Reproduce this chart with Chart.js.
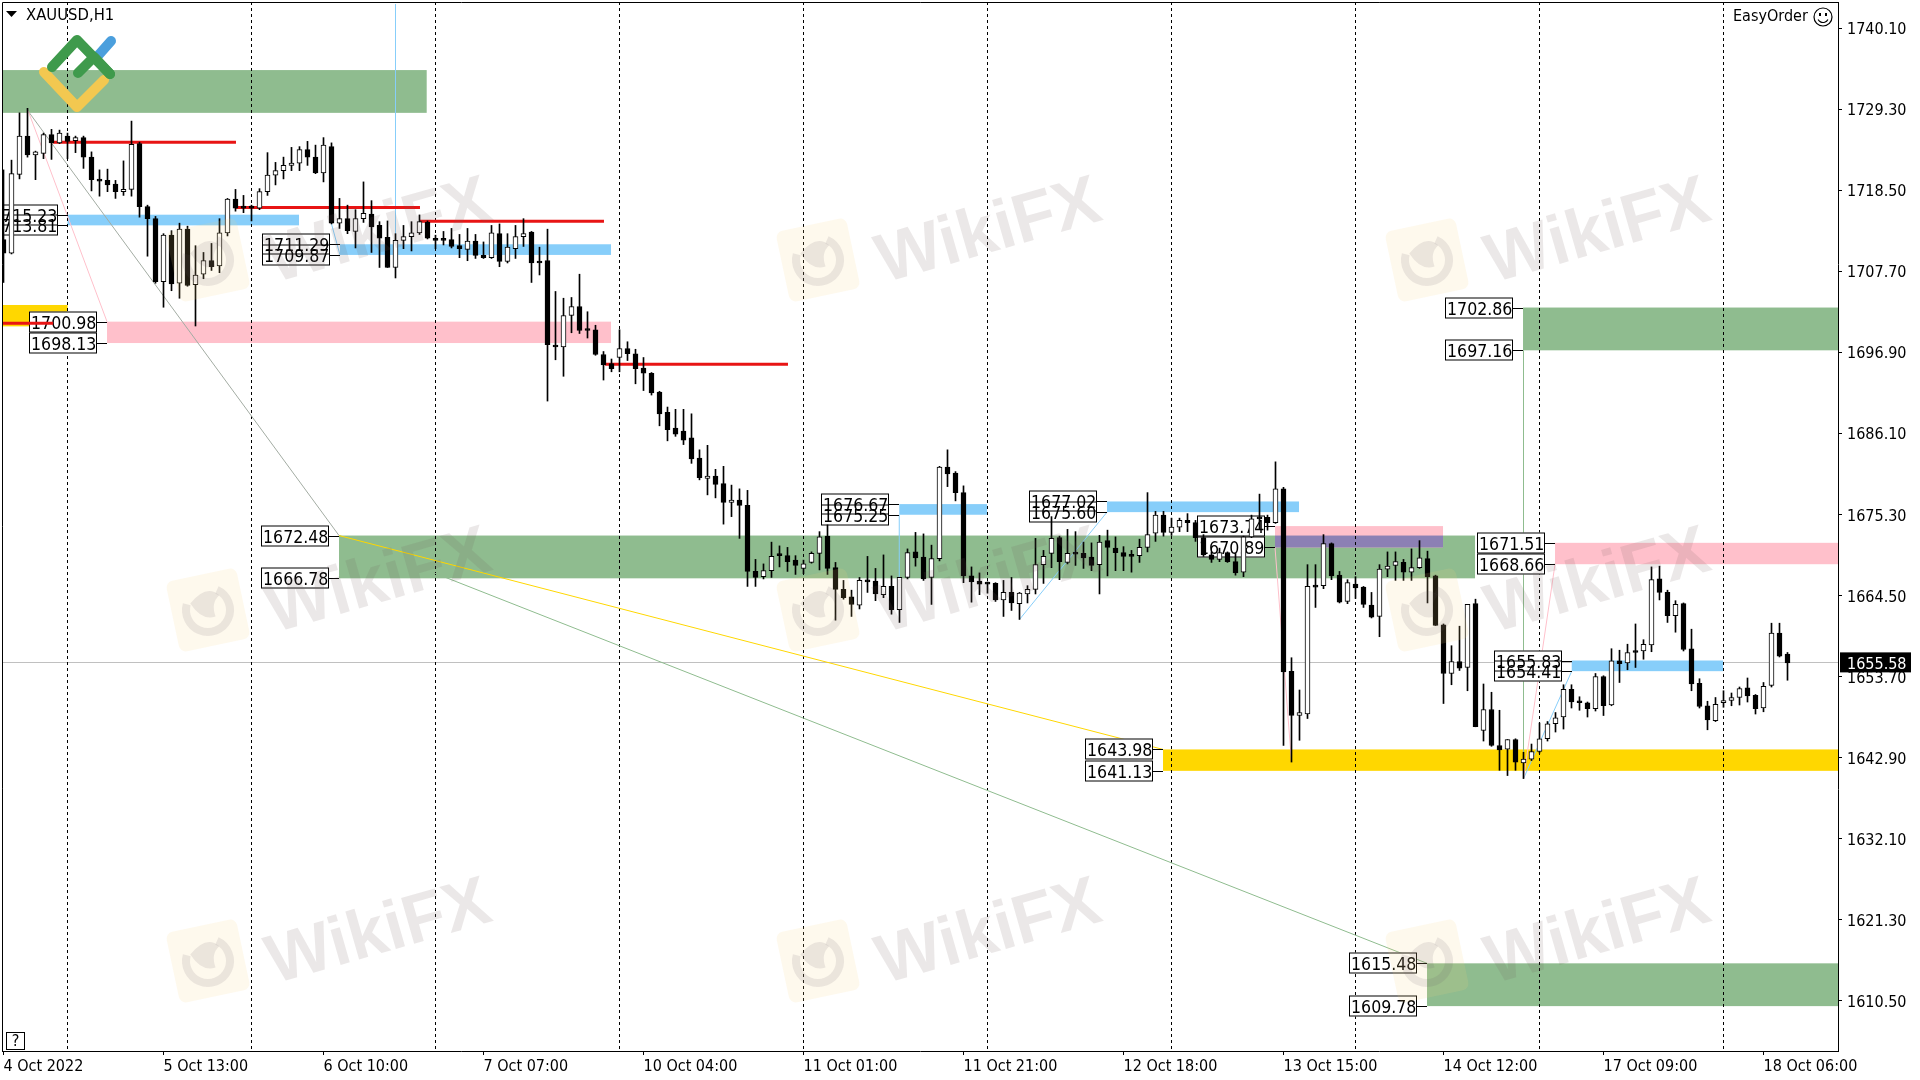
<!DOCTYPE html>
<html><head><meta charset="utf-8"><title>XAUUSD,H1</title>
<style>html,body{margin:0;padding:0;background:#fff;overflow:hidden}canvas{display:block}</style>
<script src="https://cdn.jsdelivr.net/npm/chart.js@4"></script></head><body>
<canvas id="c" width="1920" height="1080"></canvas>
<script>
const symbol = "XAUUSD,H1";
const currentPrice = 1655.58;
const yTickValues = [1610.50,1621.30,1632.10,1642.90,1653.70,1664.50,1675.30,1686.10,1696.90,1707.70,1718.50,1729.30,1740.10];
const xTickBars = [0,20,40,60,80,100,120,140,160,180,200,220];
const xTickLabels = ["4 Oct 2022","5 Oct 13:00","6 Oct 10:00","7 Oct 07:00","10 Oct 04:00","11 Oct 01:00","11 Oct 21:00","12 Oct 18:00","13 Oct 15:00","14 Oct 12:00","17 Oct 09:00","18 Oct 06:00"];
const gridBars = [8,31,54,77,100,123,146,169,192,215];

const opens = [1711.9,1710.1,1720.6,1725.7,1723.2,1723.4,1725.9,1724.8,1725.7,1725.1,
1725.5,1722.9,1719.9,1719.8,1719.3,1718.3,1718.6,1724.7,1716.3,1714.7,
1706.3,1712.5,1706.1,1713.3,1705.9,1707.3,1709.1,1708.4,1712.8,1717.3,
1716.2,1716.3,1716.1,1718.3,1720.5,1721.1,1721.8,1722.1,1723.9,1722.9,
1720.8,1724.3,1714.1,1714.7,1713.0,1714.7,1715.3,1713.8,1712.2,1708.2,
1711.8,1712.3,1712.8,1714.2,1711.9,1711.9,1711.9,1711.1,1710.6,1711.7,
1709.8,1709.5,1712.7,1709.0,1710.7,1712.3,1712.9,1709.0,1709.1,1697.8,
1697.6,1701.8,1703.0,1699.9,1699.9,1696.6,1695.4,1696.2,1697.4,1696.7,
1694.8,1694.1,1691.6,1688.9,1686.8,1686.4,1685.5,1682.8,1680.1,1680.4,
1679.4,1676.9,1677.2,1676.5,1667.7,1667.0,1667.8,1669.9,1669.8,1669.2,
1668.1,1668.9,1670.1,1672.4,1668.2,1665.3,1664.3,1663.2,1666.4,1666.4,
1664.6,1665.7,1662.6,1666.9,1670.3,1669.6,1666.9,1669.4,1681.6,1680.8,
1678.2,1667.1,1666.4,1666.1,1666.1,1663.9,1664.9,1663.4,1664.7,1665.3,
1668.6,1670.1,1672.2,1668.9,1670.1,1670.1,1669.6,1668.6,1671.8,1670.8,
1670.2,1669.8,1669.8,1670.9,1672.8,1675.2,1672.9,1673.6,1674.5,1674.2,
1672.2,1669.9,1669.3,1670.2,1669.0,1667.6,1672.3,1674.9,1674.9,1674.2,
1678.7,1654.4,1648.5,1648.7,1665.7,1665.8,1671.4,1667.2,1663.7,1666.0,
1665.6,1663.2,1661.7,1668.0,1668.5,1668.9,1667.6,1668.2,1669.4,1667.1,
1660.6,1654.1,1655.7,1654.9,1663.4,1646.5,1649.3,1644.5,1644.0,1645.3,
1642.2,1642.7,1643.7,1645.4,1647.4,1648.3,1652.0,1650.3,1650.2,1649.4,
1653.7,1649.9,1655.8,1655.5,1657.1,1657.1,1657.9,1666.7,1664.9,1661.8,
1663.4,1657.4,1652.8,1649.8,1647.8,1650.2,1650.5,1650.9,1652.2,1651.2,
1649.5,1652.5,1659.5,1656.7];
const highs = [1721.2,1722.5,1728.8,1729.4,1723.7,1726.1,1726.6,1726.5,1726.1,1725.7,
1725.7,1723.6,1721.2,1721.3,1719.8,1722.4,1727.7,1724.9,1716.5,1715.0,
1712.7,1713.1,1714.1,1713.7,1711.1,1710.2,1711.4,1714.7,1717.4,1718.6,
1717.8,1716.5,1718.7,1723.5,1722.2,1722.9,1724.2,1724.3,1725.0,1724.5,
1725.5,1724.8,1717.4,1716.5,1715.9,1719.6,1717.1,1714.3,1714.4,1712.7,
1713.8,1714.3,1715.2,1714.4,1712.5,1713.0,1713.4,1712.6,1713.4,1712.6,
1711.6,1713.8,1714.0,1712.7,1713.8,1714.7,1713.0,1710.9,1713.3,1705.0,
1704.1,1704.2,1707.3,1702.3,1700.5,1697.0,1696.0,1699.9,1698.3,1697.3,
1696.2,1694.2,1691.7,1689.6,1689.3,1689.3,1688.7,1683.9,1684.5,1681.3,
1681.7,1679.2,1678.7,1678.5,1669.3,1668.7,1671.6,1671.1,1670.9,1669.8,
1669.2,1670.3,1673.0,1673.9,1668.9,1666.5,1665.2,1666.9,1669.7,1668.1,
1669.9,1667.1,1666.9,1670.7,1672.9,1672.7,1671.2,1681.7,1683.9,1681.0,
1679.1,1668.3,1667.5,1666.3,1666.2,1666.5,1666.9,1664.9,1665.8,1672.1,
1670.5,1675.0,1672.4,1673.3,1673.0,1671.6,1671.5,1672.5,1673.2,1672.3,
1671.0,1670.5,1672.0,1678.2,1675.7,1675.7,1674.8,1674.8,1675.4,1674.5,
1672.6,1670.3,1670.8,1670.3,1670.1,1672.4,1675.2,1678.0,1675.2,1682.3,
1678.9,1656.2,1651.9,1668.6,1668.6,1672.6,1671.5,1667.7,1666.6,1667.0,
1665.7,1664.9,1668.6,1670.3,1670.3,1669.3,1670.7,1671.8,1670.4,1667.2,
1660.7,1657.8,1660.4,1663.3,1664.0,1652.7,1651.6,1649.2,1645.3,1645.4,
1643.6,1644.7,1647.5,1647.7,1648.9,1652.6,1652.6,1651.0,1650.3,1654.1,
1653.8,1657.4,1657.2,1658.0,1660.7,1658.6,1668.3,1668.4,1665.2,1663.8,
1663.5,1660.0,1653.4,1650.4,1650.9,1651.8,1651.5,1652.3,1653.5,1651.3,
1652.9,1660.8,1660.8,1656.9];
const lows = [1706.2,1710.0,1720.0,1722.9,1719.9,1722.7,1722.6,1724.7,1722.7,1723.5,
1721.4,1718.4,1717.7,1718.3,1717.4,1717.8,1717.7,1714.9,1709.7,1706.1,
1702.9,1705.1,1704.1,1705.7,1700.4,1706.7,1707.8,1707.5,1712.4,1715.7,
1715.5,1714.4,1715.9,1717.8,1719.2,1720.0,1721.1,1721.1,1721.8,1720.7,
1719.6,1714.0,1713.4,1712.7,1710.8,1714.2,1710.2,1708.2,1708.2,1706.8,
1710.7,1710.4,1712.6,1712.0,1710.7,1711.2,1710.8,1709.5,1709.1,1709.4,
1709.4,1709.4,1708.3,1708.8,1709.4,1711.0,1706.2,1707.2,1690.4,1695.9,
1693.7,1699.5,1699.4,1698.8,1696.5,1693.2,1694.3,1694.3,1695.8,1692.7,
1691.8,1691.2,1687.1,1685.1,1685.7,1684.6,1682.1,1679.9,1677.9,1677.5,
1674.0,1675.0,1672.1,1665.7,1665.7,1666.7,1666.9,1668.3,1667.7,1667.3,
1667.4,1668.8,1667.9,1667.3,1661.2,1664.0,1661.7,1662.7,1664.9,1663.8,
1664.2,1662.0,1660.9,1666.7,1668.4,1666.5,1663.3,1669.1,1679.0,1677.1,
1666.2,1663.6,1664.6,1664.8,1663.7,1661.7,1662.5,1661.3,1663.5,1664.7,
1666.1,1668.2,1666.6,1668.7,1668.5,1668.1,1667.8,1664.7,1667.1,1667.8,
1667.8,1667.6,1668.9,1670.3,1671.7,1672.4,1672.5,1673.0,1673.0,1671.7,
1669.7,1668.9,1669.0,1668.9,1667.2,1667.0,1672.2,1673.3,1673.2,1674.1,
1644.5,1642.3,1645.2,1648.1,1662.9,1665.4,1666.6,1663.5,1663.4,1664.1,
1662.9,1661.5,1659.0,1667.0,1666.5,1666.5,1666.5,1668.1,1663.5,1660.5,
1650.1,1652.6,1654.5,1651.8,1647.0,1645.1,1644.4,1641.2,1640.5,1641.2,
1640.1,1642.5,1643.5,1645.1,1646.3,1646.7,1649.5,1649.2,1648.3,1649.1,
1648.5,1649.8,1652.9,1654.6,1654.9,1656.0,1657.0,1663.9,1660.9,1659.6,
1657.1,1651.8,1649.5,1646.6,1647.7,1649.6,1649.8,1649.9,1650.3,1648.7,
1649.0,1652.3,1656.3,1653.2];
const closes = [1710.1,1720.7,1725.7,1723.2,1723.6,1725.9,1724.8,1726.1,1725.0,1725.5,
1722.9,1719.9,1719.7,1719.2,1718.3,1718.6,1724.6,1716.3,1714.7,1706.3,
1712.5,1706.0,1713.3,1705.8,1707.2,1709.1,1708.3,1712.8,1717.3,1716.1,
1716.1,1716.1,1718.3,1720.5,1721.1,1721.8,1722.1,1723.9,1722.9,1720.8,
1724.5,1714.1,1714.7,1713.1,1714.7,1715.4,1713.6,1712.1,1708.2,1711.8,
1712.3,1712.8,1714.3,1712.1,1711.8,1711.8,1711.0,1710.7,1711.7,1709.8,
1709.5,1712.8,1709.0,1710.9,1712.3,1712.7,1708.8,1708.8,1697.9,1697.6,
1701.8,1703.0,1699.8,1699.8,1696.6,1695.2,1694.7,1697.4,1696.7,1694.7,
1694.1,1691.5,1688.7,1686.6,1686.0,1685.2,1682.7,1680.2,1680.4,1679.3,
1676.9,1677.2,1676.5,1667.7,1666.9,1667.8,1669.7,1669.8,1669.0,1668.5,
1668.7,1670.1,1672.3,1668.1,1665.3,1664.2,1663.3,1666.5,1666.3,1664.7,
1665.7,1662.6,1666.9,1670.2,1669.5,1666.7,1669.4,1681.6,1680.7,1678.2,
1667.1,1666.3,1666.0,1666.0,1663.9,1664.9,1663.5,1664.8,1665.3,1668.6,
1669.7,1672.1,1669.0,1670.1,1670.0,1669.5,1668.5,1671.6,1670.9,1670.2,
1669.7,1669.7,1670.9,1672.6,1675.2,1672.9,1673.6,1674.5,1674.2,1672.2,
1669.9,1669.3,1670.2,1669.0,1667.5,1672.3,1674.7,1674.7,1674.2,1678.7,
1654.3,1648.5,1648.9,1665.7,1665.6,1671.4,1667.1,1663.6,1666.2,1665.5,
1663.3,1661.6,1668.0,1668.4,1669.0,1667.6,1668.2,1669.5,1667.0,1660.5,
1654.1,1655.7,1654.8,1663.3,1647.0,1649.3,1644.5,1643.9,1645.3,1642.3,
1642.7,1643.7,1645.4,1647.4,1648.2,1652.0,1650.3,1650.2,1649.4,1653.7,
1649.8,1655.8,1655.4,1656.9,1656.9,1658.0,1666.6,1664.9,1661.8,1663.3,
1657.3,1652.7,1649.7,1647.9,1650.0,1650.5,1650.9,1652.1,1651.1,1649.4,
1652.4,1659.5,1656.4,1655.5];

// Supply / demand zones (bar index range and price range)
const zoneKinds  = ["green","gold","pink","blue","blue","green","blue","blue","pink","purple","pink","blue","gold","green","green"];
const zoneFrom   = [-1,-1,12.94,8,42.06,41.94,111.97,137.94,158.94,158.94,193.94,196.03,144.94,189.94,177.94];
const zoneTo     = [52.9,8,75.94,36.94,75.94,183.94,122.94,161.94,179.94,179.94,231,214.94,231,231,231];
const zoneHigh   = [1734.5,1703.2,1700.98,1715.23,1711.29,1672.48,1676.67,1677.02,1673.74,1672.48,1671.51,1655.83,1643.98,1702.86,1615.48];
const zoneLow    = [1728.8,1700.35,1698.13,1713.81,1709.87,1666.78,1675.25,1675.60,1670.89,1670.89,1668.66,1654.41,1641.13,1697.16,1609.78];
const zoneLabels = [false,false,true,true,true,true,true,true,true,false,true,true,true,true,true];

// Red level lines
const redFrom  = [-1,6.2,29.06,52.06,75.2];
const redTo    = [6.2,29.06,52.06,75.06,98.06];
const redPrice = [1700.76,1724.87,1716.2,1714.35,1695.3];

// Thin connector lines
const lineKinds = ["grey","seagreen","gold","pink","pink","blue","blue","blue","blue","blue","seagreen","pink"];
const lineBarA  = [3.1,41.94,41.94,3.1,158.94,49,41,111.97,127,190,190,190];
const linePriceA= [1729.0,1672.48,1672.48,1729.0,1670.89,1743.3,1714.0,1675.25,1661.3,1640.1,1640.1,1640.1];
const lineBarB  = [41.94,177.94,144.94,12.94,161,49,42.06,111.97,137.94,196.03,190,193.94];
const linePriceB= [1672.48,1615.48,1643.98,1700.98,1642.3,1712.0,1709.87,1666.9,1675.6,1654.41,1697.16,1668.66];

const COLORS = {green:"#8fbc8f",gold:"#ffd700",pink:"#ffc0cb",blue:"#87cefa",purple:"#8c80b4",seagreen:"#8fbc8f",grey:"#a3aca3",red:"#e81414"};
const FONT = '"DejaVu Sans Condensed","DejaVu Sans",sans-serif';
const FS = 16;

const overlay = {
  id:"overlay",
  beforeDatasetsDraw(chart){
    const c = chart.ctx, X = chart.scales.x, Y = chart.scales.y, A = chart.chartArea;
    const fx = v => X.getPixelForValue(v), fy = v => Y.getPixelForValue(v);
    c.save();
    c.beginPath(); c.rect(A.left,A.top,A.width,A.height); c.clip();
    // current price line
    c.strokeStyle="#c0c0c0"; c.lineWidth=1; c.beginPath();
    const py=Math.round(fy(currentPrice))+0.5; c.moveTo(A.left,py); c.lineTo(A.right,py); c.stroke();
    // zones
    zoneKinds.forEach((k,i)=>{
      c.fillStyle=COLORS[k];
      const x0=fx(zoneFrom[i]),x1=fx(zoneTo[i]),y0=fy(zoneHigh[i]),y1=fy(zoneLow[i]);
      c.fillRect(x0,y0,x1-x0,y1-y0);
    });
    // dashed period separators
    c.strokeStyle="#000"; c.setLineDash([3,3]); c.beginPath();
    gridBars.forEach(b=>{const x=Math.floor(fx(b))+0.5;c.moveTo(x,A.top);c.lineTo(x,A.bottom);});
    c.stroke(); c.setLineDash([]);
    // connector lines
    c.lineWidth=1;
    lineKinds.forEach((k,i)=>{
      c.strokeStyle=COLORS[k]; c.beginPath();
      c.moveTo(fx(lineBarA[i]),fy(linePriceA[i])); c.lineTo(fx(lineBarB[i]),fy(linePriceB[i])); c.stroke();
    });
    // price boxes: fills, then borders and leaders, then text
    const W=68,H=21,G=10;
    const boxes=[];
    zoneKinds.forEach((k,i)=>{ if(!zoneLabels[i])return;
      const zx=Math.round(fx(zoneFrom[i]));
      [zoneHigh[i],zoneLow[i]].forEach(p=>boxes.push({x:zx-G-W,y:Math.round(fy(p)),p,zx}));
    });
    c.fillStyle="#fff";
    boxes.forEach(b=>c.fillRect(b.x,b.y-10.5,W,H));
    c.strokeStyle="#000"; c.lineWidth=1;
    boxes.forEach(b=>{
      c.strokeRect(b.x+0.5,b.y-10,W-1,H-1);
      c.beginPath(); c.moveTo(b.x+W,b.y+0.5); c.lineTo(b.zx,b.y+0.5); c.stroke();
    });
    c.fillStyle="#000"; c.font="17.6px "+FONT; c.textAlign="left"; c.textBaseline="middle";
    boxes.forEach(b=>c.fillText(b.p.toFixed(2),b.x+2,b.y+2));
    // red levels
    c.strokeStyle=COLORS.red; c.lineWidth=3; c.beginPath();
    redPrice.forEach((p,i)=>{const y=fy(p);c.moveTo(fx(redFrom[i]),y);c.lineTo(fx(redTo[i]),y);});
    c.stroke();
    c.restore();
  },
  afterDraw(chart){
    const c = chart.ctx, A = chart.chartArea, Y = chart.scales.y;
    c.save();
    // frame
    c.strokeStyle="#000"; c.lineWidth=1;
    c.beginPath(); c.moveTo(A.left+0.5,A.bottom); c.lineTo(A.left+0.5,A.top+0.5); c.lineTo(A.right,A.top+0.5); c.stroke();
    // watermark grid
    [260,610,961].forEach(wy=>[208,818,1427].forEach(wx=>{
      c.save();
      c.translate(wx,wy); c.rotate(-12*Math.PI/180);
      c.fillStyle="rgba(250,215,130,0.14)";
      c.beginPath(); c.roundRect(-36,-36,72,72,7); c.fill();
      c.strokeStyle="rgba(95,85,100,0.12)"; c.lineWidth=8;
      c.beginPath(); c.arc(0,0,22,-0.3*Math.PI,1.15*Math.PI); c.stroke();
      c.fillStyle="rgba(95,85,100,0.12)";
      c.beginPath(); c.moveTo(-16,-10); c.quadraticCurveTo(4,-26,14,-12); c.quadraticCurveTo(4,-6,6,8); c.quadraticCurveTo(-8,10,-16,-10); c.closePath(); c.fill();
      c.restore();
      c.save();
      c.translate(wx+171,wy-27); c.rotate(-16*Math.PI/180);
      c.fillStyle="rgba(110,95,95,0.14)";
      c.font='bold 69px "Liberation Sans",sans-serif';
      c.textAlign="center"; c.textBaseline="middle";
      c.fillText("WikiFX",0,0);
      c.restore();
    }));
    // brand mark
    c.lineCap="round"; c.lineJoin="round"; c.lineWidth=10;
    c.strokeStyle="#4b9fdd"; c.beginPath(); c.moveTo(96,58); c.lineTo(111,41); c.stroke();
    c.strokeStyle="#f3c850"; c.beginPath(); c.moveTo(44,72); c.lineTo(77,107); c.lineTo(104,80); c.stroke();
    c.strokeStyle="#3f9a4c"; c.beginPath(); c.moveTo(52,67); c.lineTo(77,40); c.lineTo(110,74); c.stroke();
    c.beginPath(); c.moveTo(78,73); c.lineTo(94,57); c.lineTo(110,74); c.stroke();
    c.lineCap="butt"; c.lineJoin="miter";
    // symbol caption
    c.fillStyle="#000"; c.beginPath(); c.moveTo(6,11); c.lineTo(17,11); c.lineTo(11.5,17); c.closePath(); c.fill();
    c.font="16.5px "+FONT; c.textAlign="left"; c.textBaseline="middle";
    c.fillText(symbol,26,16);
    c.font=FS+"px "+FONT;
    c.fillText("EasyOrder",1733,17);
    // smiley
    c.lineWidth=1.2; c.strokeStyle="#000";
    c.beginPath(); c.arc(1823,17,9,0,Math.PI*2); c.stroke();
    c.beginPath(); c.arc(1823,17,5.5,0.15*Math.PI,0.85*Math.PI); c.stroke();
    c.fillRect(1819,13,2,3); c.fillRect(1825,13,2,3);
    // help box
    c.fillStyle="#fff"; c.fillRect(6,1032,19,18);
    c.strokeStyle="#000"; c.lineWidth=1; c.strokeRect(6.5,1032.5,18,17);
    c.fillStyle="#000"; c.textAlign="center"; c.fillText("?",15.5,1042);
    // current price tag
    const py=Y.getPixelForValue(currentPrice);
    c.fillStyle="#000"; c.fillRect(1840,py-10,71,20);
    c.fillStyle="#fff"; c.textAlign="left"; c.fillText(currentPrice.toFixed(2),1847,py+2);
    c.restore();
  }
};

const wickData = highs.map((h,i)=>({x:i,y:[lows[i],h]}));
const bodyData = opens.map((o,i)=>({x:i,y:[o,closes[i]]}));

new Chart(document.getElementById("c"),{
  type:"bar",
  data:{datasets:[
    {label:"wick",data:wickData,order:2,grouped:false,barThickness:1,backgroundColor:"#000",borderWidth:0,minBarLength:1},
    {label:"body",data:bodyData,order:1,grouped:false,barThickness:5,
     backgroundColor:ctx=>{const i=ctx.dataIndex;return closes[i]>=opens[i]?"#fff":"#000";},
     borderColor:"#000",borderWidth:1,borderSkipped:false,minBarLength:2}
  ]},
  options:{
    responsive:false,animation:false,
    layout:{padding:{left:2,top:2,right:0,bottom:0}},
    plugins:{legend:{display:false},tooltip:{enabled:false}},
    scales:{
      x:{type:"linear",offset:false,min:-0.1875,max:229.3125,
        grid:{display:true,drawOnChartArea:false,offset:false,tickLength:4,tickColor:"#000",tickWidth:1},
        border:{display:true,color:"#000",width:1},
        afterFit(s){s.height=29;s.paddingLeft=0;s.paddingRight=0;s.paddingTop=0;s.paddingBottom=0;},
        afterBuildTicks(s){s.ticks=xTickBars.map(v=>({value:v}));},
        ticks:{autoSkip:false,maxRotation:0,minRotation:0,align:"start",padding:2,color:"#000",
          font:{family:FONT,size:FS},
          callback:(v)=>xTickLabels[xTickBars.indexOf(v)]}
      },
      y:{type:"linear",position:"right",min:1603.80,max:1743.57,stacked:false,
        grid:{display:true,drawOnChartArea:false,tickLength:4,tickColor:"#000",tickWidth:1},
        border:{display:true,color:"#000",width:1},
        afterFit(s){s.width=82;s.paddingLeft=0;s.paddingRight=0;s.paddingTop=0;s.paddingBottom=0;},
        afterBuildTicks(s){s.ticks=yTickValues.map(v=>({value:v}));},
        ticks:{autoSkip:false,padding:5,color:"#000",font:{family:FONT,size:FS,lineHeight:0.25},
          callback:v=>["",Number(v).toFixed(2)]}
      }
    }
  },
  plugins:[overlay]
});
</script></body></html>
